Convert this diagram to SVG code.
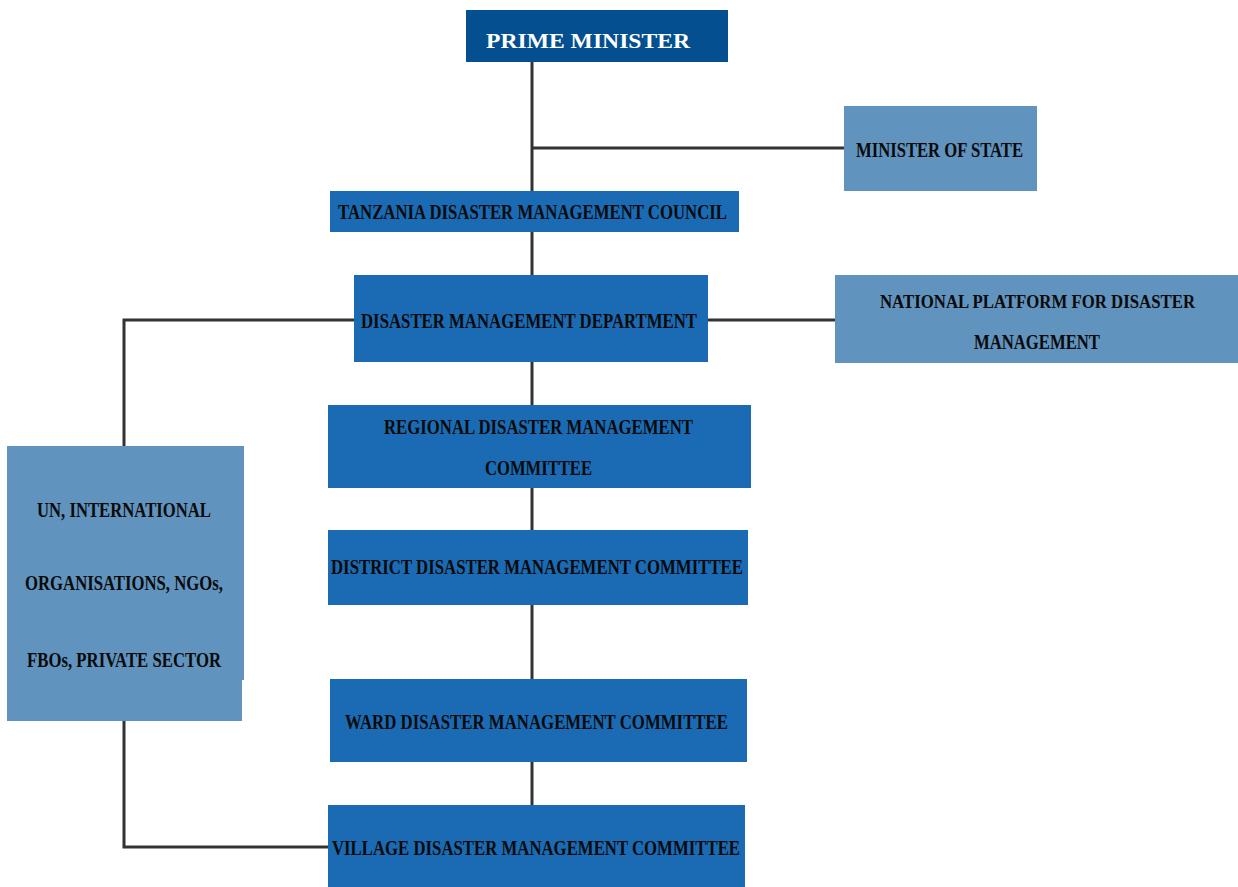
<svg xmlns="http://www.w3.org/2000/svg" width="1238" height="887" viewBox="0 0 1238 887">
<style>
.dark{fill:#034f8f}
.mid{fill:#1a6ab4}
.light{fill:#6093be}
text{font-family:"Liberation Serif","Times New Roman",serif;font-weight:bold;font-size:20px;fill:#0a0a0a}
.w{fill:#ffffff;font-size:22px}
.s{font-size:18px}
.c{stroke:#333333;stroke-width:3;fill:none}
</style>
<rect width="1238" height="887" fill="#ffffff"/>
<g id="connectors">
<line class="c" x1="532" y1="62" x2="532" y2="191"/>
<line class="c" x1="532" y1="148" x2="844" y2="148"/>
<line class="c" x1="532" y1="232" x2="532" y2="275"/>
<line class="c" x1="532" y1="362" x2="532" y2="405"/>
<line class="c" x1="532" y1="488" x2="532" y2="530"/>
<line class="c" x1="532" y1="605" x2="532" y2="679"/>
<line class="c" x1="532" y1="762" x2="532" y2="805"/>
<line class="c" x1="708" y1="320" x2="835" y2="320"/>
<polyline class="c" points="354,320 124,320 124,446"/>
<polyline class="c" points="124,721 124,847 330,847"/>
</g>
<g id="prime-minister">
<rect class="dark" x="466" y="10" width="262" height="52"/>
<text class="w" x="486" y="48" textLength="204" lengthAdjust="spacingAndGlyphs">PRIME MINISTER</text>
</g>
<g id="minister-of-state">
<rect class="light" x="844" y="106" width="193" height="85"/>
<text x="856" y="157" textLength="167" lengthAdjust="spacingAndGlyphs">MINISTER OF STATE</text>
</g>
<g id="council">
<rect class="mid" x="330" y="191" width="409" height="41"/>
<text x="338" y="219" textLength="389" lengthAdjust="spacingAndGlyphs">TANZANIA DISASTER MANAGEMENT COUNCIL</text>
</g>
<g id="department">
<rect class="mid" x="354" y="275" width="354" height="87"/>
<text x="361" y="328" textLength="336" lengthAdjust="spacingAndGlyphs">DISASTER MANAGEMENT DEPARTMENT</text>
</g>
<g id="national-platform">
<rect class="light" x="835" y="275" width="403" height="88"/>
<text class="s" x="880" y="308" textLength="315" lengthAdjust="spacingAndGlyphs">NATIONAL PLATFORM FOR DISASTER</text>
<text x="974" y="349" textLength="126" lengthAdjust="spacingAndGlyphs">MANAGEMENT</text>
</g>
<g id="regional">
<rect class="mid" x="328" y="405" width="423" height="83"/>
<text x="384" y="434" textLength="309" lengthAdjust="spacingAndGlyphs">REGIONAL DISASTER MANAGEMENT</text>
<text x="485" y="475" textLength="107" lengthAdjust="spacingAndGlyphs">COMMITTEE</text>
</g>
<g id="district">
<rect class="mid" x="328" y="530" width="420" height="75"/>
<text x="331" y="574" textLength="412" lengthAdjust="spacingAndGlyphs">DISTRICT DISASTER MANAGEMENT COMMITTEE</text>
</g>
<g id="ward">
<rect class="mid" x="330" y="679" width="417" height="83"/>
<text x="345" y="729" textLength="383" lengthAdjust="spacingAndGlyphs">WARD DISASTER MANAGEMENT COMMITTEE</text>
</g>
<g id="village">
<rect class="mid" x="328" y="805" width="417" height="82"/>
<text x="332" y="855" textLength="408" lengthAdjust="spacingAndGlyphs">VILLAGE DISASTER MANAGEMENT COMMITTEE</text>
</g>
<g id="partners">
<polygon class="light" points="7,446 244,446 244,680 242,680 242,721 7,721"/>
<text x="37" y="517" textLength="174" lengthAdjust="spacingAndGlyphs">UN, INTERNATIONAL</text>
<text x="25" y="590" textLength="198" lengthAdjust="spacingAndGlyphs">ORGANISATIONS, NGOs,</text>
<text x="27" y="667" textLength="194" lengthAdjust="spacingAndGlyphs">FBOs, PRIVATE SECTOR</text>
</g>
</svg>
